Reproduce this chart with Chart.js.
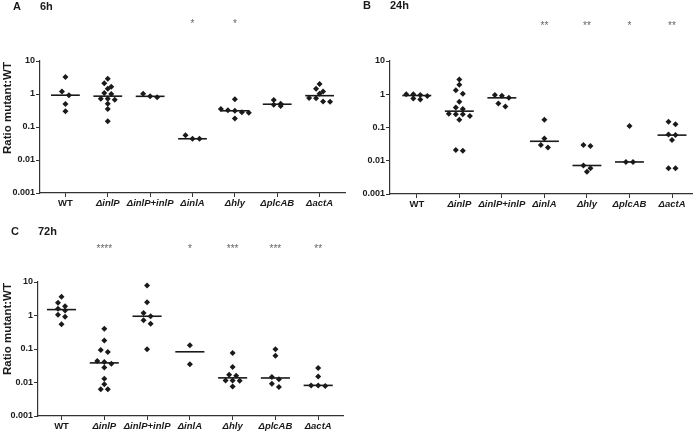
<!DOCTYPE html>
<html>
<head>
<meta charset="UTF-8">
<title>Ratio mutant:WT</title>
<script src="https://cdn.jsdelivr.net/npm/chart.js@4.4.0/dist/chart.umd.min.js"></script>
<style>
	body { margin: 0; background: #fff; }
	#wrap { position: relative; width: 696px; height: 434px; }
	.panel { position: absolute; }
</style>
<script>
	// groups on the x axis
	var groups = ['WT', '\u0394inlP', '\u0394inlP+inlP', '\u0394inlA', '\u0394hly', '\u0394plcAB', '\u0394actA'];
	var yTicks = [0.001, 0.01, 0.1, 1, 10];
	var yTickLabels = ['0.001', '0.01', '0.1', '1', '10'];

	// ratio mutant:WT, one list per group
	var ratio6h = [
		[3.3, 1.2, 0.92, 0.5, 0.3],
		[2.9, 2.1, 1.65, 1.45, 1.07, 1.0, 0.72, 0.72, 0.67, 0.51, 0.35, 0.15],
		[1.02, 0.85, 0.8],
		[0.056, 0.044, 0.044],
		[0.69, 0.35, 0.32, 0.31, 0.28, 0.27, 0.18],
		[0.66, 0.51, 0.47, 0.43],
		[2.0, 1.44, 1.2, 1.02, 0.76, 0.74, 0.59, 0.58]
	];
	var ratio24h = [
		[1.0, 1.0, 0.95, 0.88, 0.74, 0.7],
		[2.8, 1.94, 1.32, 1.04, 0.59, 0.40, 0.36, 0.26, 0.25, 0.25, 0.22, 0.17, 0.021, 0.020],
		[0.95, 0.9, 0.78, 0.53, 0.43],
		[0.17, 0.047, 0.03, 0.025],
		[0.03, 0.028, 0.0072, 0.006, 0.0047],
		[0.11, 0.0092, 0.0092],
		[0.15, 0.125, 0.062, 0.059, 0.042, 0.006, 0.006]
	];
	var ratio72h = [
		[3.6, 2.4, 1.9, 1.6, 1.4, 1.05, 0.91, 0.55],
		[0.40, 0.18, 0.093, 0.081, 0.044, 0.041, 0.036, 0.028, 0.0129, 0.0089, 0.0063, 0.0063],
		[7.9, 2.5, 1.18, 0.95, 0.72, 0.57, 0.098],
		[0.13, 0.035],
		[0.076, 0.029, 0.017, 0.016, 0.0115, 0.0115, 0.0113, 0.0076],
		[0.098, 0.063, 0.0147, 0.0126, 0.0091, 0.0074],
		[0.027, 0.015, 0.0082, 0.0081, 0.0078]
	];

	// significance marks above each group
	var stars6h = ['', '', '', '*', '*', '', ''];
	var stars24h = ['', '', '', '**', '**', '*', '**'];
	var stars72h = ['', '****', '', '*', '***', '***', '**'];

	var FONT = "'Liberation Sans', Arial, sans-serif";
	var INK = '#1a1a1a';

	function median(arr) {
		var s = arr.slice().sort(function(a, b) { return a - b; });
		var m = Math.floor(s.length / 2);
		return s.length % 2 ? s[m] : (s[m - 1] + s[m]) / 2;
	}

	// scatter dot layout: near-equal values (within ~4px) share a row and are spread sideways
	function swarm(values, idx) {
		var sorted = values.slice().sort(function(a, b) { return b - a; });
		var pts = [], row = [];
		function flush() {
			row.forEach(function(v, k) {
				pts.push({ x: idx + (k - (row.length - 1) / 2) * 0.165, y: v });
			});
			row = [];
		}
		sorted.forEach(function(v) {
			if (row.length && Math.log10(row[0]) - Math.log10(v) >= 0.12) flush();
			row.push(v);
		});
		flush();
		return pts;
	}

	var panelText = {
		id: 'panelText',
		afterDraw: function(chart, args, opts) {
			var ctx = chart.ctx, area = chart.chartArea, xs = chart.scales.x;
			ctx.save();
			ctx.fillStyle = INK;
			ctx.font = 'bold 11px ' + FONT;
			ctx.textBaseline = 'middle';
			ctx.textAlign = 'left';
			ctx.fillText(opts.letter, area.left - 27, opts.titleY);
			ctx.fillText(opts.time, area.left, opts.titleY);

			ctx.fillStyle = '#666';
			ctx.font = '10px ' + FONT;
			ctx.textAlign = 'center';
			ctx.textBaseline = 'alphabetic';
			opts.stars.forEach(function(s, i) {
				if (s) ctx.fillText(s, xs.getPixelForValue(i), opts.starY + 5);
			});

			if (opts.yTitle) {
				ctx.translate(8, area.top + 47);
				ctx.rotate(-Math.PI / 2);
				ctx.fillStyle = INK;
				ctx.font = 'bold 11.5px ' + FONT;
				ctx.textBaseline = 'middle';
				ctx.fillText(opts.yTitle, 0, 0);
			}
			ctx.restore();
		}
	};

	function makeChart(id, values, stars, o) {
		var dots = [];
		values.forEach(function(vals, i) { dots = dots.concat(swarm(vals, i)); });

		var datasets = [{
			type: 'scatter',
			data: dots,
			pointStyle: 'rectRot',
			pointRadius: 3,
			backgroundColor: INK,
			borderWidth: 0
		}];
		// median bars
		values.forEach(function(vals, i) {
			var m = median(vals);
			datasets.push({
				type: 'line',
				data: [{ x: i - 0.34, y: m }, { x: i + 0.34, y: m }],
				borderColor: INK,
				borderWidth: 1.6,
				pointRadius: 0
			});
		});

		return new Chart(document.getElementById(id), {
			type: 'scatter',
			data: { datasets: datasets },
			options: {
				responsive: false,
				animation: false,
				events: [],
				layout: { padding: { top: o.top, right: o.right, left: 0, bottom: 0 } },
				plugins: {
					legend: { display: false },
					tooltip: { enabled: false },
					panelText: { letter: o.letter, time: o.time, titleY: o.titleY, starY: o.starY, stars: stars, yTitle: o.yTitle }
				},
				scales: {
					x: {
						type: 'linear',
						min: o.xmin,
						max: o.xmax,
						afterBuildTicks: function(s) { s.ticks = groups.map(function(g, i) { return { value: i }; }); },
						afterFit: function(s) { s.height = o.xh; },
						grid: { drawOnChartArea: false, drawTicks: true, tickLength: 4, color: '#333' },
						border: { color: '#333', width: 1.2 },
						ticks: {
							padding: 1,
							color: INK,
							autoSkip: false,
							maxRotation: 0,
							font: function(c) {
								return { family: FONT, size: 9.5, weight: 'bold', style: c.index === 0 ? 'normal' : 'italic' };
							},
							callback: function(v, i) { return groups[i]; }
						}
					},
					y: {
						type: 'logarithmic',
						min: 0.001,
						max: 10,
						afterBuildTicks: function(s) { s.ticks = yTicks.map(function(v) { return { value: v }; }); },
						afterFit: function(s) { s.width = o.yw; },
						grid: { drawOnChartArea: false, drawTicks: true, tickLength: 4, color: '#333' },
						border: { color: '#333', width: 1.2 },
						ticks: {
							padding: 1,
							color: INK,
							font: { family: FONT, size: 9, weight: 'bold' },
							callback: function(v, i) { return yTickLabels[i]; }
						}
					}
				}
			},
			plugins: [panelText]
		});
	}

	window.addEventListener('load', function() {
		makeChart('chartA', ratio6h, stars6h, {
			letter: 'A', time: '6h', yTitle: 'Ratio mutant:WT',
			top: 61, right: 5, xh: 22, yw: 40, xmin: -0.6, xmax: 6.6, titleY: 7, starY: 22
		});
		makeChart('chartB', ratio24h, stars24h, {
			letter: 'B', time: '24h', yTitle: null,
			top: 61, right: 3, xh: 21, yw: 40, xmin: -0.63, xmax: 6.47, titleY: 6, starY: 24
		});
		makeChart('chartC', ratio72h, stars72h, {
			letter: 'C', time: '72h', yTitle: 'Ratio mutant:WT',
			top: 67, right: 7, xh: 18, yw: 38, xmin: -0.55, xmax: 6.58, titleY: 17, starY: 32
		});
	});
</script>
</head>
<body>
	<div id="wrap">
		<div class="panel" style="left:0;top:0;"><canvas id="chartA" width="350" height="215"></canvas></div>
		<div class="panel" style="left:350px;top:0;"><canvas id="chartB" width="346" height="215"></canvas></div>
		<div class="panel" style="left:0;top:215px;"><canvas id="chartC" width="350" height="219"></canvas></div>
	</div>
</body>
</html>
